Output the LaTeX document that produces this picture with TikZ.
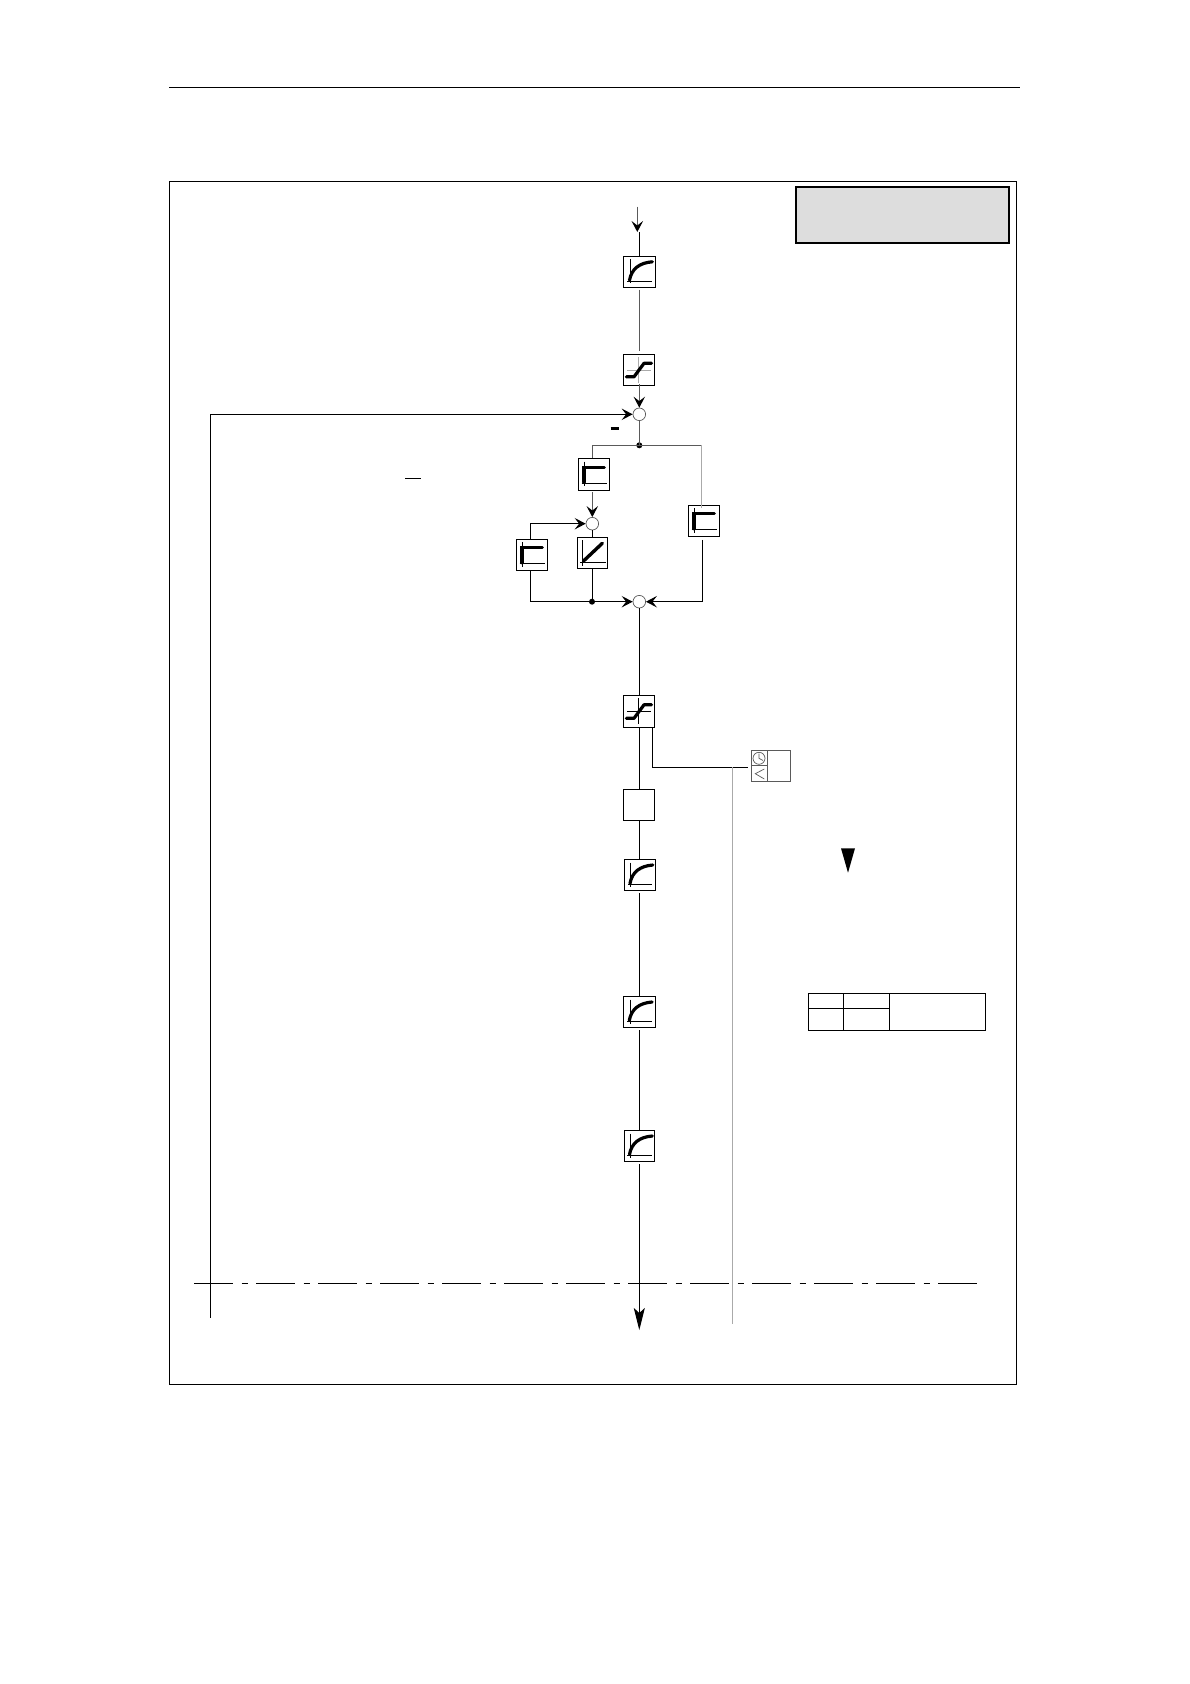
\documentclass[tikz,border=0pt]{standalone}
\usetikzlibrary{arrows.meta,calc}
\definecolor{lgray}{HTML}{AAAAAA}
\definecolor{mgray}{HTML}{5A5A5A}
\definecolor{boxfill}{HTML}{DDDDDD}
\tikzset{
  conn/.style={line width=1pt,draw=black},
  connm/.style={line width=1pt,draw=mgray},
  connl/.style={line width=1pt,draw=lgray},
  tip/.style={-{Stealth[length=11pt,width=11.5pt,inset=4.5pt,color=black]}},
  blk/.style={draw=black,line width=1pt,inner sep=0,minimum width=31.5pt,minimum height=31.5pt},
  sumnode/.style={circle,draw=mgray,fill=white,line width=0.7pt,inner sep=0,minimum size=12.6pt},
  dotnode/.style={circle,fill=black,inner sep=0,minimum size=6pt},
  curveicon/.pic={
    \draw[line width=0.8pt] (-9.2,-12.5) -- (-9.2,11.5);
    \draw[line width=0.8pt] (-12.2,9.5) -- (12.2,9.5);
    \draw[line width=3.2pt,line cap=round] (-10,8.5) .. controls (-8,-3) and (0,-9) .. (12.8,-10);
  },
  limiticon/.pic={
    \draw[line width=0.8pt,draw=#1] (-0.7,-13) -- (-0.7,13);
    \draw[line width=0.8pt,draw=#1] (-12,0.5) -- (12,0.5);
    \draw[line width=3.2pt,line cap=round,line join=round] (-12.7,7) -- (-5,7) -- (5,-6.5) -- (12.5,-6.5);
  },
  stepicon/.pic={
    \draw[line width=0.8pt] (-9.7,-12.8) -- (-9.7,11.5);
    \draw[line width=0.8pt] (-12.3,8.8) -- (13.3,8.8);
    \draw[line width=3.2pt,line cap=round,line join=miter] (-10,7.8) -- (-10,-7.2) -- (10.3,-7.2);
  },
  linicon/.pic={
    \draw[line width=0.8pt] (-10.2,-13) -- (-10.2,13);
    \draw[line width=0.8pt] (-12.5,9.3) -- (13,9.3);
    \draw[line width=3.4pt,line cap=round] (-9,8) -- (9.8,-9.7);
  },
}
\begin{document}
\begin{tikzpicture}[x=1pt,y=-1pt]
\useasboundingbox (0,0) rectangle (1190,1684);
\fill[white] (0,0) rectangle (1190,1684);
% page rule and frame
\coordinate (ruleL) at (169.3,87.3);
\coordinate (ruleR) at (1019.7,87.3);
\draw[line width=1.1pt] (ruleL) -- (ruleR);
\node[draw=black,line width=1.1pt,inner sep=0,minimum width=847pt,minimum height=1203pt] (frame) at (592.8,782.8) {};
\node[draw=black,fill=boxfill,line width=2pt,inner sep=0,minimum width=213pt,minimum height=56pt] (title) at (902.5,214.7) {};
% blocks
\node[blk] (b1) at (639.5,271.8) {};
\node[blk,minimum width=31pt] (b2) at (639,369.8) {};
\node[sumnode] (s1) at (639.3,414.3) {};
\node[dotnode] (d1) at (639.3,445.3) {};
\node[blk] (ba) at (594,474.5) {};
\node[sumnode] (s2) at (592.3,523.7) {};
\node[blk] (bb) at (532,555) {};
\node[blk,minimum width=30.5pt] (bc) at (592.5,553) {};
\node[blk] (bd) at (704,521) {};
\node[sumnode] (s3) at (639.3,601.7) {};
\node[dotnode] (d2) at (592,601.7) {};
\node[blk,minimum height=32pt] (be) at (639,711.3) {};
\node[blk,minimum height=31pt] (bf) at (639,804.8) {};
\node[blk] (bg) at (640,875) {};
\node[blk,minimum width=32pt] (bh) at (639.3,1012) {};
\node[blk,minimum width=30.5pt] (bi) at (639.5,1146) {};
% icons
\pic at (b1) {curveicon};
\pic at (b2) {limiticon=lgray};
\pic at (ba) {stepicon};
\pic at (bb) {stepicon};
\pic at (bc) {linicon};
\pic at (bd) {stepicon};
\pic at (be) {limiticon=black};
\pic at (bg) {curveicon};
\pic at (bh) {curveicon};
\pic at (bi) {curveicon};
% free ends
\coordinate (inS) at (637.3,206.7);
\coordinate (inT) at (637.3,232);
\coordinate (inB) at (639.3,232);
\coordinate (fbEnd) at (210.3,1317.7);
\coordinate (outEnd) at (639.3,1330);
\coordinate (grayTop) at (732.7,767.3);
\coordinate (grayEnd) at (732.7,1323.7);
\coordinate (dashL) at (194,1283.3);
\coordinate (dashR) at (977,1283.3);
\coordinate (tapE) at (652.3,727.3);
\coordinate (tapC) at (652.3,767.3);
\coordinate (tapT) at (748.3,767.3);
% connectors
\draw[connm,tip] (inS) -- (inT);
\draw[conn] (inB) -- (inB |- b1.north);
\draw[connm,shorten <=1.5pt,shorten >=2.5pt] (b1.south -| d1) -- (b2.north -| d1);
\draw[connm,tip,shorten <=-2pt] (b2.south -| s1) -- (s1.north);
\draw[conn,tip] (fbEnd) |- (s1.west);
\draw[connm] (s1.south) -- (d1.center);
\draw[connm] (d1.center) -| (ba.north -| s2);
\draw[connm] (d1.center) -- (d1 -| 701.7,0);
\draw[connl,line width=1.5pt] (d1 -| 701.7,0) -- (701.7,507.7);
\draw[connm,tip,shorten <=1.5pt] (ba.south -| s2) -- (s2.north);
\draw[conn] (s2.south) -- (bc.north -| s2);
\draw[conn,tip] (bb.north -| 530.3,0) |- (s2.west);
\draw[conn] (bb.south -| 530.3,0) |- (d2.center);
\draw[conn] (bc.south -| d2) -- (d2.center);
\draw[conn,tip] (d2.center) -- (s3.west);
\draw[conn,tip,shorten <=2.5pt] (bd.south -| 702.3,0) |- (s3.east);
\draw[conn] (s3.south) -- (be.north -| s3);
\draw[conn] (be.south -| s3) -- (bf.north -| s3);
\draw[conn] (bf.south -| s3) -- (bg.north -| s3);
\draw[conn,shorten <=1.5pt] (bg.south -| s3) -- (bh.north -| s3);
\draw[conn,shorten <=2pt] (bh.south -| s3) -- (bi.north -| s3);
\draw[conn,shorten <=2pt,-{Stealth[length=22pt,width=11pt,inset=5pt]}] (bi.south -| s3) -- (outEnd);
\draw[conn] (tapE) -- (tapC) -- (tapT);
\draw[connl,line width=1.5pt] (grayTop) -- (grayEnd);
\draw[line width=1.1pt,dash pattern=on 39pt off 8.5pt on 6pt off 8.5pt] (dashL) -- (dashR);
% minus sign and fragments
\coordinate (mL) at (610.7,428.3);
\coordinate (mR) at (618.7,428.3);
\draw[line width=2.5pt] (mL) -- (mR);
\coordinate (oL) at (405,478.3);
\coordinate (oR) at (420.7,478.3);
\draw[line width=0.9pt] (oL) -- (oR);
% timer block
\node[draw=mgray,line width=0.8pt,inner sep=0,minimum width=39pt,minimum height=31pt] (tm) at (770.5,765.8) {};
\draw[draw=mgray,line width=0.8pt] (767.3,750.3) -- (767.3,781.3);
\draw[draw=mgray,line width=0.8pt] (751,765.7) -- (767.3,765.7);
\draw[draw=mgray,line width=0.7pt] (759,758.3) circle (6);
\draw[draw=mgray,line width=0.7pt] (759,753.5) -- (759,758.3) -- (763,760.5);
\draw[draw=mgray,line width=0.7pt] (764.3,769) -- (755.3,773.7) -- (764.3,779);
% triangle
\fill[black] (841,848.3) -- (855,848.3) -- (848,872.7) -- cycle;
% table
\node[draw=black,line width=1pt,inner sep=0,minimum width=177.4pt,minimum height=37pt] (tb) at (897,1011.8) {};
\draw[line width=1pt] (843.3,993.3) -- (843.3,1030.3);
\draw[line width=1pt] (889.3,993.3) -- (889.3,1030.3);
\draw[line width=1pt] (808.3,1008.3) -- (889.3,1008.3);
\end{tikzpicture}
\end{document}
